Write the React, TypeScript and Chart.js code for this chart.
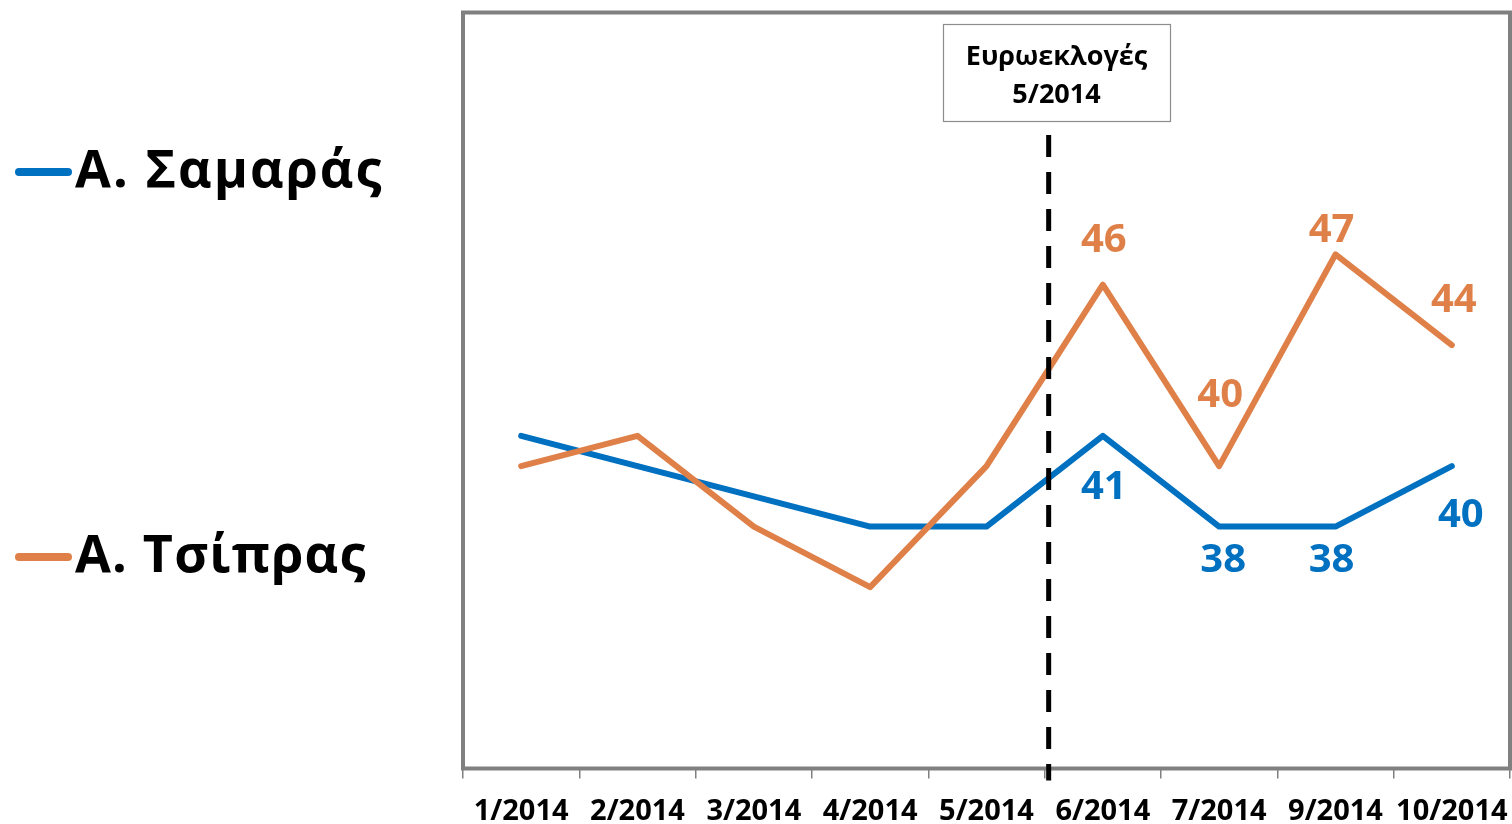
import React, { useEffect, useRef } from "react";
import { Chart, registerables } from "chart.js";

Chart.register(...registerables);

const categories = ["1/2014", "2/2014", "3/2014", "4/2014", "5/2014", "6/2014", "7/2014", "9/2014", "10/2014"];
const samarasValues = [41, 40, 39, 38, 38, 41, 38, 38, 40];
const tsiprasValues = [40, 41, 38, 36, 40, 46, 40, 47, 44];
const seriesNames = ["Α. Σαμαράς", "Α. Τσίπρας"];
const labelledIndices = [5, 6, 7, 8];
const annotationLines = ["Ευρωεκλογές", "5/2014"];
const markerAfterIndex = 4;
const yMin = 30;
const yMax = 55;

const BLUE = "#0070C0";
const ORANGE = "#DF8049";
const GRAY = "#808080";
const FONT = "'Open Sans', 'Noto Sans', sans-serif";

// label placement (offsets from the point, px)
const labelOffsets: Record<number, Array<[number, number]>> = {
  0: [[1, 49], [4, 31], [-4, 31], [9, 47]],
  1: [[1, -47], [1, -73], [-4, -27], [2, -47]],
};

const decorPlugin = {
  id: "decor",
  beforeDatasetsDraw(chart: any) {
    const { ctx, chartArea: a } = chart;
    ctx.save();
    ctx.strokeStyle = GRAY;
    ctx.lineWidth = 4;
    ctx.strokeRect(a.left, a.top, a.right - a.left, a.bottom - a.top);
    ctx.restore();
  },
  afterDatasetsDraw(chart: any) {
    const { ctx, chartArea: a } = chart;
    const xs = chart.scales.x;
    ctx.save();
    // dashed marker line
    const xm = (xs.getPixelForValue(markerAfterIndex) + xs.getPixelForValue(markerAfterIndex + 1)) / 2 + 4;
    ctx.strokeStyle = "#000";
    ctx.lineWidth = 5;
    ctx.setLineDash([22, 15]);
    ctx.beginPath();
    ctx.moveTo(xm, 135);
    ctx.lineTo(xm, a.bottom + 12);
    ctx.stroke();
    ctx.setLineDash([]);

    // annotation box
    const bx = 943, by = 24, bw = 227, bh = 97;
    ctx.fillStyle = "#fff";
    ctx.fillRect(bx, by, bw, bh);
    ctx.strokeStyle = "#8c8c8c";
    ctx.lineWidth = 1.2;
    ctx.strokeRect(bx + 0.5, by + 0.5, bw, bh);
    ctx.fillStyle = "#000";
    ctx.font = `bold 27px ${FONT}`;
    ctx.textAlign = "center";
    ctx.textBaseline = "alphabetic";
    ctx.fillText(annotationLines[0], bx + bw / 2, 65);
    ctx.fillText(annotationLines[1], bx + bw / 2, 103);

    // value labels
    ctx.font = `bold 40px ${FONT}`;
    chart.data.datasets.forEach((ds: any, di: number) => {
      const meta = chart.getDatasetMeta(di);
      labelledIndices.forEach((idx, k) => {
        const pt = meta.data[idx];
        const [dx, dy] = labelOffsets[di][k];
        ctx.fillStyle = ds.borderColor;
        ctx.fillText(String(ds.data[idx]), pt.x + dx, pt.y + dy + 40 * 0.357);
      });
    });

    // legend
    const legendY = [172, 557];
    chart.data.datasets.forEach((ds: any, di: number) => {
      const y = legendY[di];
      ctx.strokeStyle = ds.borderColor;
      ctx.lineWidth = 8;
      ctx.lineCap = "round";
      ctx.beginPath();
      ctx.moveTo(19, y);
      ctx.lineTo(68, y);
      ctx.stroke();
      ctx.fillStyle = "#000";
      ctx.font = `bold 52px ${FONT}`;
      (ctx as any).letterSpacing = di === 0 ? "2px" : "1.2px";
      ctx.textAlign = "left";
      ctx.fillText(ds.label, 75, y + 15);
      (ctx as any).letterSpacing = "0px";
    });
    ctx.restore();
  },
};

export default function App() {
  const ref = useRef<HTMLCanvasElement>(null);
  useEffect(() => {
    if (!ref.current) return;
    const chart = new Chart(ref.current, {
      type: "line",
      data: {
        labels: categories,
        datasets: [
          {
            label: seriesNames[0],
            data: samarasValues,
            borderColor: BLUE,
            backgroundColor: BLUE,
            borderWidth: 6,
            pointRadius: 0,
            tension: 0,
            borderJoinStyle: "round",
            borderCapStyle: "round",
            order: 1,
          },
          {
            label: seriesNames[1],
            data: tsiprasValues,
            borderColor: ORANGE,
            backgroundColor: ORANGE,
            borderWidth: 6,
            pointRadius: 0,
            tension: 0,
            borderJoinStyle: "round",
            borderCapStyle: "round",
            order: 0,
          },
        ],
      },
      options: {
        responsive: false,
        animation: false,
        layout: { padding: { left: 463, top: 12.5, right: 2, bottom: 0 } },
        plugins: { legend: { display: false }, tooltip: { enabled: false } },
        scales: {
          x: {
            type: "category",
            offset: true,
            grid: {
              display: true,
              drawOnChartArea: false,
              drawTicks: true,
              tickLength: 10,
              color: GRAY,
              lineWidth: 1.5,
              offset: true,
            },
            border: { display: false },
            ticks: {
              color: "#000",
              font: { family: FONT, size: 29, weight: "bold" },
              padding: 16,
              maxRotation: 0,
              autoSkip: false,
            },
            afterFit: (scale: any) => {
              scale.height = 55.5;
              scale.paddingLeft = 0;
              scale.paddingRight = 0;
            },
          },
          y: {
            display: false,
            min: yMin,
            max: yMax,
          },
        },
      },
      plugins: [decorPlugin],
    });
    return () => chart.destroy();
  }, []);
  return (
    <div style={{ position: "fixed", left: 0, top: 0, width: 1512, height: 824, background: "#fff" }}>
      <canvas ref={ref} width={1512} height={824} />
    </div>
  );
}
